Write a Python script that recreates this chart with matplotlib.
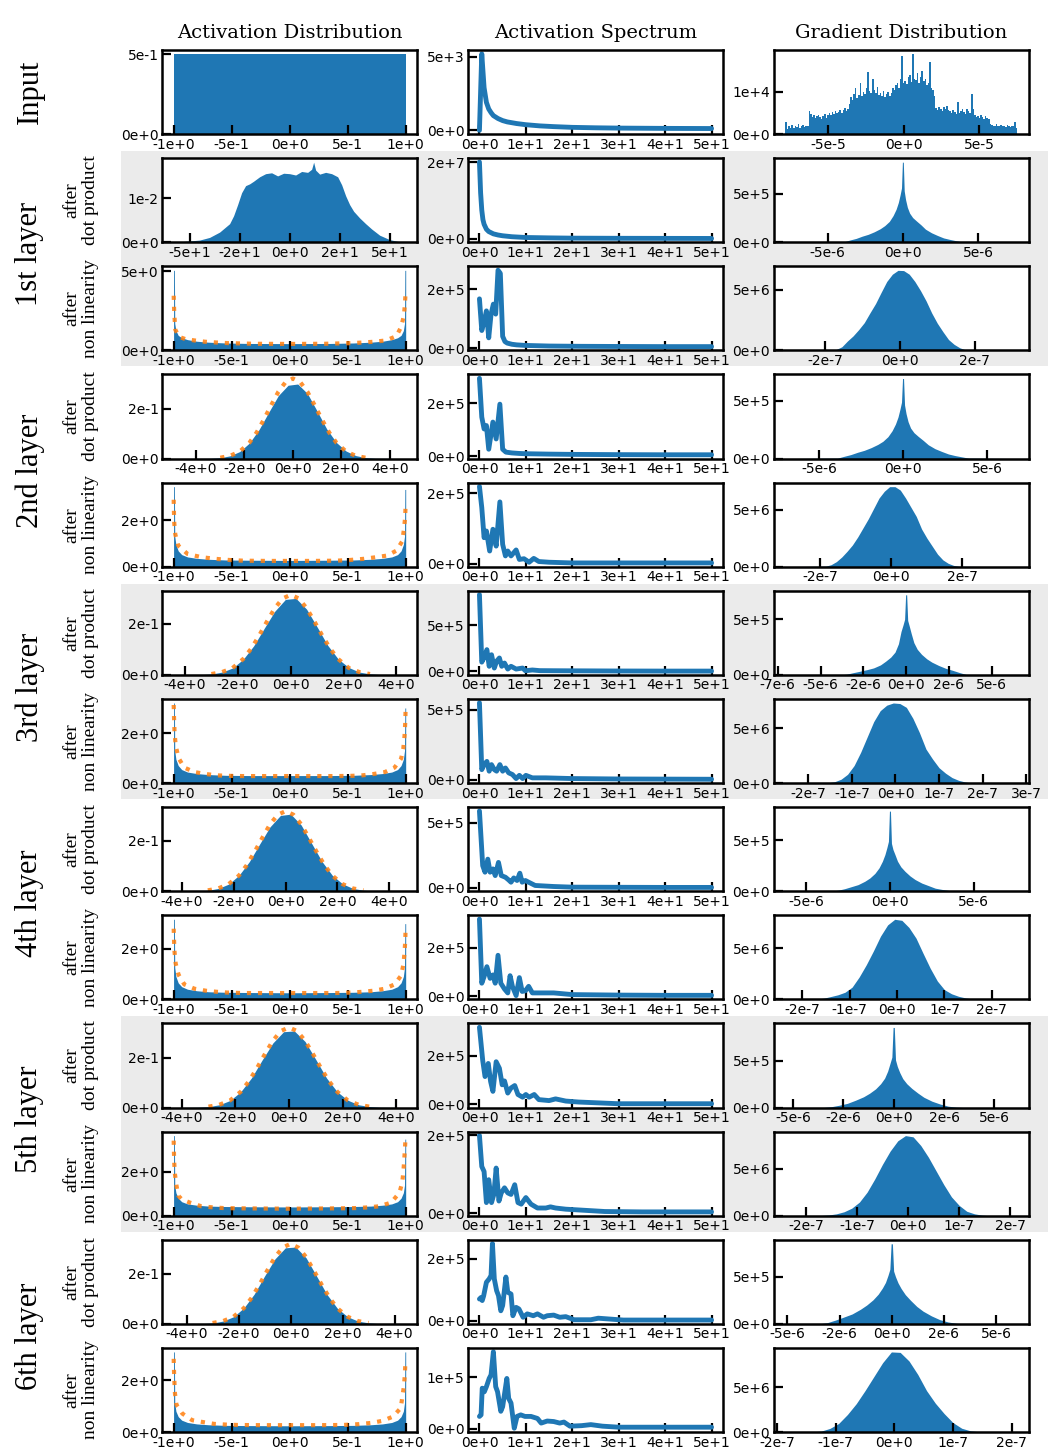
import numpy as np
import matplotlib
matplotlib.use("Agg")
import matplotlib.pyplot as plt
from matplotlib.ticker import MaxNLocator, Formatter
from matplotlib.patches import Rectangle

BLUE = "#1f77b4"
ORANGE = "#ff7f0e"

col_titles = ["Activation Distribution", "Activation Spectrum", "Gradient Distribution"]
row_groups = ["Input", "1st layer", "2nd layer", "3rd layer", "4th layer", "5th layer", "6th layer"]
sub_labels = ["after\ndot product", "after\nnon linearity"]

# ---------------- Column 1: activation distributions ----------------
act0_x = [-1.0, -0.5, 0.0, 0.5, 1.0]
act0_y = [0.5, 0.5, 0.5, 0.5, 0.5]

act1_x = [-58, -50, -45, -40, -35, -30, -28, -26, -24, -22, -20, -18, -15, -12, -9, -6, -3, 0, 3, 6,
          9, 11, 12, 13, 15, 18, 21, 24, 26, 28, 30, 32, 35, 38, 41, 45, 50, 54, 58]
act1_y = [0, 0.03, 0.05, 0.11, 0.23, 0.42, 0.6, 0.85, 1.12, 1.28, 1.32, 1.38, 1.48, 1.55, 1.57, 1.5,
          1.56, 1.55, 1.52, 1.6, 1.58, 1.65, 1.81, 1.63, 1.54, 1.58, 1.55, 1.48, 1.3, 1.05, 0.85, 0.7,
          0.55, 0.42, 0.3, 0.16, 0.06, 0.02, 0]  # x1e-2

nl_x = [-1.0, -1.0, -0.993, -0.99, -0.98, -0.96, -0.93, -0.88, -0.8, -0.7, -0.55, -0.35, 0.0,
        0.35, 0.55, 0.7, 0.8, 0.88, 0.93, 0.96, 0.98, 0.99, 0.993, 1.0, 1.0]
act2_y = [0, 5.05, 5.05, 1.7, 1.25, 0.95, 0.8, 0.68, 0.58, 0.52, 0.47, 0.44, 0.43, 0.44, 0.47, 0.52,
          0.58, 0.68, 0.8, 0.95, 1.25, 1.7, 5.05, 5.05, 0]
act4_y = [0, 3.43, 3.43, 1.3, 0.95, 0.68, 0.52, 0.42, 0.36, 0.32, 0.29, 0.28, 0.27, 0.28, 0.29, 0.32,
          0.36, 0.42, 0.52, 0.68, 0.95, 1.3, 3.31, 3.31, 0]
act6_y = [0, 3.2, 3.2, 1.3, 0.95, 0.7, 0.54, 0.44, 0.38, 0.34, 0.31, 0.3, 0.3, 0.3, 0.31, 0.34,
          0.38, 0.44, 0.54, 0.7, 0.95, 1.3, 3.0, 3.0, 0]
act8_y = [0, 3.15, 3.15, 1.25, 0.9, 0.65, 0.5, 0.4, 0.34, 0.3, 0.28, 0.27, 0.26, 0.27, 0.28, 0.3,
          0.34, 0.4, 0.5, 0.65, 0.9, 1.25, 2.98, 2.98, 0]
act10_y = [0, 3.66, 3.66, 1.4, 1.05, 0.8, 0.64, 0.54, 0.48, 0.44, 0.42, 0.41, 0.4, 0.41, 0.42, 0.44,
           0.48, 0.54, 0.64, 0.8, 1.05, 1.4, 3.5, 3.5, 0]
act12_y = [0, 3.85, 3.85, 1.4, 1.0, 0.74, 0.57, 0.46, 0.39, 0.35, 0.32, 0.31, 0.3, 0.31, 0.32, 0.35,
           0.39, 0.46, 0.57, 0.74, 1.0, 1.4, 3.85, 3.85, 0]

dp_core_x = [-3.4, -3.0, -2.6, -2.2, -1.8, -1.4, -1.0, -0.6, -0.2, 0.2, 0.6, 1.0, 1.4, 1.8, 2.2, 2.6, 3.0, 3.4]
act3_x = [-4.93] + dp_core_x + [4.66]
act5_x = [-4.43] + dp_core_x + [4.35]
act7_x = [-4.32] + dp_core_x + [4.63]
act9_x = [-4.30] + dp_core_x + [4.35]
act11_x = [-4.50] + dp_core_x + [4.43]
act3_y = [0, 0.001, 0.0035, 0.011, 0.028, 0.062, 0.116, 0.185, 0.252, 0.293, 0.298, 0.26, 0.19, 0.118,
          0.064, 0.03, 0.012, 0.004, 0.001, 0]
act5_y = [0, 0.001, 0.0035, 0.011, 0.027, 0.061, 0.114, 0.183, 0.25, 0.296, 0.3, 0.258, 0.188, 0.116,
          0.062, 0.029, 0.011, 0.004, 0.001, 0]
act7_y = [0, 0.001, 0.0035, 0.011, 0.028, 0.063, 0.117, 0.187, 0.255, 0.3, 0.305, 0.262, 0.19, 0.118,
          0.063, 0.029, 0.011, 0.004, 0.001, 0]
act9_y = [0, 0.001, 0.0035, 0.011, 0.028, 0.063, 0.118, 0.19, 0.258, 0.303, 0.306, 0.264, 0.192, 0.118,
          0.063, 0.029, 0.011, 0.004, 0.001, 0]
act11_y = [0, 0.001, 0.0035, 0.011, 0.028, 0.063, 0.118, 0.19, 0.258, 0.302, 0.305, 0.262, 0.19, 0.117,
           0.062, 0.028, 0.011, 0.004, 0.001, 0]

# orange dotted reference curves
ref_dp_x = [-3.0, -2.6, -2.2, -1.8, -1.5, -1.2, -0.9, -0.6, -0.3, 0.0, 0.3, 0.6, 0.9, 1.2, 1.5, 1.8, 2.2, 2.6, 3.0]
ref3_y = [0.0036, 0.011, 0.028, 0.063, 0.104, 0.156, 0.213, 0.267, 0.306, 0.32, 0.306, 0.267, 0.213,
          0.156, 0.104, 0.063, 0.028, 0.011, 0.0036]
ref5_y = [0.0035, 0.011, 0.027, 0.062, 0.102, 0.153, 0.209, 0.262, 0.3, 0.314, 0.3, 0.262, 0.209,
          0.153, 0.102, 0.062, 0.027, 0.011, 0.0035]
ref7_y = [0.0036, 0.011, 0.028, 0.062, 0.103, 0.155, 0.211, 0.265, 0.303, 0.317, 0.303, 0.265, 0.211,
          0.155, 0.103, 0.062, 0.028, 0.011, 0.0036]
ref9_y = [0.0036, 0.011, 0.028, 0.063, 0.104, 0.156, 0.213, 0.267, 0.306, 0.32, 0.306, 0.267, 0.213,
          0.156, 0.104, 0.063, 0.028, 0.011, 0.0036]
ref11_y = [0.0036, 0.011, 0.028, 0.062, 0.103, 0.155, 0.211, 0.265, 0.303, 0.318, 0.303, 0.265, 0.211,
           0.155, 0.103, 0.062, 0.028, 0.011, 0.0036]

ref2_x = [-0.999, -0.996, -0.993, -0.985, -0.95, -0.9, -0.82, -0.73, -0.63, -0.53, -0.3, 0.0, 0.3, 0.53,
          0.63, 0.73, 0.83, 0.92, 0.96, 0.985, 0.993, 0.998]
ref2_y = [3.45, 2.7, 2.2, 1.3, 0.85, 0.72, 0.63, 0.55, 0.5, 0.46, 0.42, 0.41, 0.42, 0.46, 0.5, 0.55,
          0.63, 0.9, 1.47, 2.2, 2.9, 3.5]
ref4_x = [-0.999, -0.997, -0.994, -0.985, -0.96, -0.88, -0.76, -0.64, -0.52, -0.4, -0.2, 0.0, 0.2, 0.4,
          0.52, 0.64, 0.76, 0.84, 0.92, 0.97, 0.985, 0.995, 0.999]
ref4_y = [2.87, 2.36, 1.86, 1.38, 0.91, 0.55, 0.41, 0.34, 0.29, 0.26, 0.25, 0.25, 0.25, 0.26, 0.29,
          0.34, 0.42, 0.48, 0.69, 1.09, 1.6, 2.09, 2.6]
ref68_x = [-0.999, -0.996, -0.992, -0.982, -0.957, -0.908, -0.82, -0.72, -0.63, -0.54, -0.4, -0.2, 0.0,
           0.2, 0.4, 0.54, 0.63, 0.72, 0.82, 0.904, 0.961, 0.98, 0.99, 0.996, 0.999]
ref6_y = [3.12, 2.6, 2.05, 1.5, 1.0, 0.62, 0.44, 0.36, 0.31, 0.29, 0.28, 0.28, 0.28, 0.28, 0.28, 0.29,
          0.31, 0.36, 0.44, 0.62, 0.98, 1.4, 1.88, 2.4, 2.9]
ref8_y = [2.78, 2.31, 1.88, 1.41, 0.97, 0.59, 0.42, 0.34, 0.3, 0.27, 0.25, 0.25, 0.25, 0.25, 0.25, 0.27,
          0.3, 0.34, 0.42, 0.59, 0.94, 1.37, 1.84, 2.28, 2.74]
ref10_x = [-0.999, -0.997, -0.994, -0.988, -0.975, -0.96, -0.93, -0.86, -0.76, -0.66, -0.57, -0.47, -0.25,
           0.0, 0.25, 0.47, 0.57, 0.67, 0.77, 0.875, 0.946, 0.97, 0.98, 0.987, 0.993, 0.998]
ref10_y = [3.43, 2.92, 2.38, 1.89, 1.38, 0.92, 0.75, 0.6, 0.43, 0.38, 0.35, 0.34, 0.33, 0.32, 0.33, 0.34,
           0.35, 0.38, 0.43, 0.6, 1.05, 1.51, 2.0, 2.51, 3.02, 3.48]
ref12_x = [-0.999, -0.997, -0.993, -0.988, -0.975, -0.925, -0.84, -0.748, -0.648, -0.553, -0.46, -0.25,
           0.0, 0.25, 0.46, 0.6, 0.704, 0.8, 0.89, 0.957, 0.97, 0.985, 0.992, 0.997]
ref12_y = [3.52, 3.03, 2.43, 1.85, 1.31, 0.89, 0.57, 0.48, 0.39, 0.36, 0.34, 0.33, 0.33, 0.33, 0.34,
           0.38, 0.44, 0.54, 0.74, 1.15, 1.64, 2.21, 2.7, 3.28]

# ---------------- Column 2: activation spectra ----------------
spec0_x = [0, 0.5, 1.0, 1.5, 2, 2.5, 3, 4, 5, 6, 8, 10, 13, 16, 20, 25, 30, 40, 50]
spec0_y = [0, 5.2, 2.9, 1.9, 1.45, 1.2, 1.0, 0.8, 0.66, 0.57, 0.46, 0.38, 0.3, 0.25, 0.2, 0.17, 0.15,
           0.13, 0.12]  # x1e3
spec1_x = [0, 0.25, 0.5, 0.75, 1, 1.5, 2, 3, 4, 5, 7, 10, 15, 20, 30, 40, 50]
spec1_y = [2.0, 1.2, 0.75, 0.5, 0.38, 0.25, 0.19, 0.13, 0.1, 0.08, 0.055, 0.035, 0.025, 0.018, 0.014,
           0.012, 0.01]  # x1e7
spec2_x = [0, 0.5, 1.0, 1.5, 2.0, 2.5, 3.0, 3.5, 4.0, 4.5, 5.0, 5.5, 6, 7, 8, 10, 15, 22, 30, 40, 50]
spec2_y = [1.68, 0.6, 0.9, 1.27, 0.35, 1.16, 1.5, 1.16, 2.66, 2.55, 0.4, 0.22, 0.17, 0.13, 0.11, 0.09,
           0.07, 0.06, 0.055, 0.05, 0.05]  # x1e5
spec3_x = [0, 0.5, 1.0, 1.5, 2.0, 2.9, 3.6, 4.4, 5.0, 5.7, 7, 8.6, 10, 15, 20, 30, 40, 50]
spec3_y = [2.95, 1.48, 1.03, 1.16, 0.26, 1.29, 0.65, 1.97, 0.26, 0.15, 0.12, 0.1, 0.09, 0.075, 0.065,
           0.055, 0.05, 0.05]
spec4_x = [0, 0.5, 1, 1.5, 2.2, 2.9, 3.6, 4.4, 5.0, 5.6, 6.1, 6.8, 7.9, 8.6, 9.6, 10.7, 11.7, 12.8, 15,
           20, 30, 40, 50]
spec4_y = [2.2, 1.6, 0.74, 0.93, 0.36, 0.98, 0.5, 1.76, 0.55, 0.22, 0.36, 0.22, 0.39, 0.12, 0.14, 0.04,
           0.15, 0.06, 0.04, 0.02, 0.02, 0.02, 0.02]
spec5_x = [0, 0.5, 1.0, 1.6, 2.1, 2.6, 3.2, 3.7, 4.3, 4.8, 5.4, 6.1, 6.8, 7.9, 9.3, 9.9, 11.4, 13, 16,
           20, 30, 40, 50]
spec5_y = [8.3, 1.0, 1.5, 2.35, 0.55, 1.8, 0.36, 1.1, 1.45, 0.55, 0.9, 0.25, 0.55, 0.25, 0.36, 0.07,
           0.15, 0.08, 0.07, 0.06, 0.04, 0.03, 0.03]
spec6_x = [0, 0.5, 1, 1.6, 2.1, 2.6, 3.2, 3.7, 4.4, 5.0, 5.6, 6.3, 7.1, 7.9, 8.6, 9.3, 10, 11.4, 14.3,
           20, 30, 40, 50]
spec6_y = [5.5, 0.71, 1.07, 1.3, 0.6, 1.07, 0.71, 0.6, 1.07, 0.6, 0.83, 0.48, 0.36, 0.07, 0.3, 0.07,
           0.3, 0.12, 0.12, 0.07, 0.04, 0.03, 0.02]
spec7_x = [0, 0.7, 1.2, 1.8, 2.3, 2.9, 3.4, 4.1, 4.7, 5.6, 6.3, 6.8, 7.4, 8.1, 8.7, 9.2, 9.9, 10.6, 12,
           16, 20, 30, 40, 50]
spec7_y = [5.9, 1.7, 1.2, 2.2, 1.2, 1.45, 0.94, 1.95, 0.94, 0.81, 0.6, 0.43, 0.76, 0.56, 1.12, 0.43,
           0.56, 0.43, 0.18, 0.1, 0.05, 0.04, 0.03, 0.03]
spec8_x = [0, 0.5, 1, 1.6, 2.3, 2.9, 3.4, 4.0, 4.6, 5.4, 6.1, 6.6, 7.1, 7.9, 8.6, 9.2, 9.9, 10.6, 11.4,
           14.3, 16, 20, 30, 40, 50]
spec8_y = [3.18, 0.54, 0.81, 1.22, 0.74, 0.88, 0.54, 1.69, 0.54, 0.3, 0.14, 0.85, 0.41, 0.03, 0.77,
           0.2, 0.23, 0.41, 0.14, 0.14, 0.14, 0.07, 0.05, 0.04, 0.04]
spec9_x = [0, 0.7, 1.2, 1.9, 2.4, 2.9, 3.6, 4.3, 4.9, 5.4, 6.1, 6.8, 7.6, 8.3, 9.3, 10, 10.7, 11.8, 12.8,
           15, 16.4, 18.6, 21.4, 30, 40, 50]
spec9_y = [3.18, 1.82, 1.15, 1.69, 0.95, 0.54, 1.76, 1.49, 0.81, 0.97, 0.47, 0.68, 0.78, 0.41, 0.3,
           0.41, 0.3, 0.41, 0.2, 0.16, 0.23, 0.14, 0.1, 0.03, 0.03, 0.03]
spec10_x = [0, 0.5, 1, 1.5, 2, 2.6, 3.1, 3.6, 4.2, 4.7, 5.4, 6.1, 6.8, 7.6, 8.3, 9.0, 10, 11.1, 12.5,
            14.3, 15.3, 16.4, 18.6, 21.4, 27, 35, 50]
spec10_y = [2.0, 1.2, 1.07, 0.27, 0.86, 0.27, 0.48, 1.16, 0.31, 0.52, 0.65, 0.52, 0.48, 0.73, 0.27,
            0.23, 0.4, 0.23, 0.13, 0.13, 0.16, 0.13, 0.1, 0.08, 0.04, 0.03, 0.03]
spec11_x = [0, 0.35, 0.6, 0.9, 1.5, 2.1, 2.5, 2.8, 3.2, 3.7, 4.1, 4.6, 5.0, 5.7, 6.1, 6.8, 7.2, 7.9, 8.5,
            9.4, 10.3, 11.6, 12.5, 13.8, 14.6, 16, 17.3, 18.6, 20.4, 24, 25.6, 31, 50]
spec11_y = [0.7, 0.75, 0.65, 0.8, 1.24, 1.35, 1.46, 2.49, 1.35, 0.97, 0.81, 0.32, 0.49, 1.41, 0.92,
            0.86, 0.16, 0.43, 0.38, 0.11, 0.22, 0.16, 0.22, 0.11, 0.16, 0.18, 0.11, 0.13, 0.03, 0.03,
            0.08, 0.02, 0.02]
spec12_x = [0, 0.35, 0.6, 1.05, 1.5, 2.1, 2.5, 3.0, 3.5, 3.9, 4.6, 5.0, 5.9, 6.3, 6.8, 7.5, 8.1, 8.9,
            9.8, 11.1, 12.5, 13.3, 14.6, 16, 17.3, 18.2, 19.5, 22, 24, 26.5, 30, 50]
spec12_y = [0.24, 0.27, 0.79, 0.72, 0.82, 0.98, 1.05, 1.5, 0.82, 0.72, 0.34, 0.43, 0.98, 0.59, 0.5,
            0.01, 0.24, 0.27, 0.24, 0.24, 0.2, 0.11, 0.15, 0.14, 0.11, 0.13, 0.05, 0.06, 0.08, 0.05,
            0.03, 0.03]

# ---------------- Column 3: gradient distributions ----------------
grad0_range = [-7.8, 7.5]  # x1e-5
grad0_counts = [0.28, 0.12, 0.18, 0.15, 0.22, 0.14, 0.2, 0.17, 0.25, 0.15, 0.19, 0.22, 0.16, 0.2, 0.18,
                0.55, 0.48,
                0.4, 0.44, 0.38, 0.42, 0.46, 0.4, 0.36, 0.43, 0.47, 0.39, 0.44,
                0.5, 0.45, 0.52, 0.47, 0.55, 0.49, 0.53, 0.58, 0.5, 0.56, 0.62, 0.55, 0.6,
                0.72, 0.88, 0.8, 0.95, 1.1, 0.85, 0.92, 1.2, 0.9,
                1.0, 0.95, 1.08, 1.46, 1.02, 0.98, 1.3, 1.05, 0.97, 1.12,
                0.92, 0.98, 0.9, 1.02, 0.88, 0.95, 1.0, 0.9, 0.96, 1.1, 1.05,
                1.15, 1.2, 1.08, 1.3, 1.85, 1.2, 1.25,
                1.18, 1.35, 1.4, 1.22, 1.89, 1.3, 1.28, 1.45, 1.2, 1.35, 1.5,
                1.25, 1.3, 1.15, 1.2, 1.69, 1.1, 1.05, 0.9,
                0.62, 0.58, 0.65, 0.6, 0.55, 0.63, 0.59, 0.66, 0.57,
                0.55, 0.5, 0.58, 0.52, 0.48, 0.75, 0.5, 0.55, 0.6, 0.52, 0.48, 0.6, 0.55, 0.5,
                0.94, 0.6,
                0.45, 0.4, 0.42, 0.38, 0.44, 0.4, 0.36, 0.42, 0.39, 0.35,
                0.25, 0.22, 0.2, 0.18, 0.24, 0.2, 0.19, 0.22, 0.18, 0.2, 0.17, 0.21, 0.19, 0.16, 0.2,
                0.18, 0.28, 0.15]  # x1e4

# sharply peaked gradients after the dot product (x in 1e-6, y in 1e5)
lap_x = [-3.9, -3.5, -3.1, -2.7, -2.3, -1.9, -1.5, -1.2, -0.9, -0.65, -0.45, -0.3, -0.18, -0.09, -0.03,
         0.03, 0.09, 0.18, 0.3, 0.45, 0.65, 0.9, 1.2, 1.5, 1.9, 2.3, 2.7, 3.1, 3.5, 3.9]
grad1_lim = [-7.8, 7.6]
grad1_y = [0.05, 0.24, 0.4, 0.63, 0.82, 1.08, 1.4, 1.72, 2.15, 2.75, 3.4, 4.1, 4.9, 5.6, 8.26,
           8.26, 5.3, 4.4, 3.6, 3.0, 2.55, 2.2, 1.8, 1.35, 0.98, 0.7, 0.45, 0.3, 0.17, 0.05]
grad3_lim = [-7.0, 6.8]
grad3_y = [0.04, 0.2, 0.35, 0.55, 0.72, 0.95, 1.23, 1.5, 1.9, 2.42, 3.0, 3.6, 4.3, 4.9, 6.95,
           6.95, 4.65, 3.9, 3.2, 2.65, 2.25, 1.93, 1.58, 1.2, 0.86, 0.62, 0.4, 0.26, 0.15, 0.04]
grad5_lim = [-7.06, 6.5]
grad5_y = [0, 0.06, 0.2, 0.33, 0.47, 0.63, 0.9, 1.23, 1.6, 2.05, 2.8, 3.9, 4.5, 5.0, 7.2,
           7.2, 4.9, 4.4, 3.7, 2.9, 2.3, 1.85, 1.45, 1.15, 0.85, 0.6, 0.42, 0.22, 0.04, 0]
grad7_lim = [-6.24, 7.6]
grad7_y = [0, 0.02, 0.1, 0.25, 0.45, 0.65, 0.98, 1.3, 1.75, 2.3, 2.95, 3.6, 4.3, 4.9, 7.87,
           7.87, 4.7, 4.1, 3.6, 2.95, 2.4, 1.95, 1.5, 1.15, 0.8, 0.55, 0.3, 0.18, 0.08, 0.02]
grad9_lim = [-5.38, 6.14]
grad9_y = [0, 0, 0.09, 0.25, 0.45, 0.78, 1.15, 1.53, 2.0, 2.55, 3.15, 3.9, 4.75, 5.4, 8.58,
           8.58, 5.1, 4.4, 3.75, 3.1, 2.55, 2.05, 1.55, 1.1, 0.68, 0.38, 0.15, 0.04, 0, 0]
grad11_lim = [-5.1, 6.02]
grad11_y = [0, 0, 0.12, 0.4, 0.72, 1.05, 1.55, 2.0, 2.55, 3.15, 3.8, 4.4, 5.15, 5.8, 8.5,
            8.5, 5.6, 5.0, 4.35, 3.75, 3.1, 2.5, 1.85, 1.35, 0.85, 0.45, 0.2, 0.06, 0, 0]

# bell-shaped gradients after the non linearity (x in 1e-7, y in 1e6)
bell_x = [-1.85, -1.7, -1.55, -1.4, -1.25, -1.1, -0.95, -0.8, -0.65, -0.5, -0.35, -0.2, -0.05, 0.1,
          0.25, 0.4, 0.55, 0.7, 0.85, 1.0, 1.15, 1.3, 1.45, 1.6, 1.75, 1.9]
grad2_lim = [-3.06, 3.14]
grad2_y = [0, 0.08, 0.3, 0.78, 1.2, 1.72, 2.3, 3.1, 3.87, 4.8, 5.7, 6.3, 6.62, 6.6, 6.3, 5.7, 4.95,
           4.1, 3.1, 2.25, 1.55, 0.9, 0.5, 0.22, 0.05, 0]
grad4_lim = [-2.99, 3.55]
grad4_y = [0.05, 0.18, 0.45, 0.85, 1.35, 1.9, 2.6, 3.4, 4.2, 5.1, 6.0, 6.6, 7.0, 7.0, 6.7, 6.0, 5.2,
           4.4, 3.3, 2.5, 1.8, 1.1, 0.6, 0.3, 0.12, 0.04]
grad6_lim = [-2.53, 2.8]
grad6_y = [0, 0, 0.03, 0.12, 0.35, 0.8, 1.6, 2.8, 4.2, 5.6, 6.6, 7.1, 7.3, 7.25, 6.9, 5.9, 4.6, 3.1,
           2.2, 1.4, 0.9, 0.5, 0.25, 0.1, 0, 0]
grad8_lim = [-2.36, 2.54]
grad8_y = [0, 0.02, 0.12, 0.28, 0.45, 0.7, 1.2, 2.2, 3.4, 4.75, 6.2, 7.3, 7.85, 7.75, 7.05, 6.0, 4.5,
           3.05, 1.8, 0.95, 0.55, 0.3, 0.14, 0.05, 0, 0]
grad10_lim = [-2.4, 2.14]
grad10_y = [0, 0.02, 0.08, 0.2, 0.42, 0.8, 1.45, 2.5, 3.9, 5.45, 6.85, 7.95, 8.5, 8.37, 7.45, 6.2,
            4.75, 3.3, 2.0, 1.1, 0.47, 0.2, 0.06, 0, 0, 0]
grad12_lim = [-1.86, 2.1]
grad12_y = [0, 0, 0, 0.02, 0.1, 0.4, 0.95, 1.95, 3.15, 4.6, 6.15, 7.7, 8.9, 8.85, 7.9, 6.4, 4.6, 3.2,
            2.05, 1.05, 0.42, 0.13, 0.03, 0, 0, 0]

# ---------------- panel tables built from the arrays ----------------
act_panels = [
    (act0_x, act0_y, 1, 1, None, None),
    (act1_x, act1_y, 1, 1e-2, None, None),
    (nl_x, act2_y, 1, 1, ref2_x, ref2_y),
    (act3_x, act3_y, 1, 1, ref_dp_x, ref3_y),
    (nl_x, act4_y, 1, 1, ref4_x, ref4_y),
    (act5_x, act5_y, 1, 1, ref_dp_x, ref5_y),
    (nl_x, act6_y, 1, 1, ref68_x, ref6_y),
    (act7_x, act7_y, 1, 1, ref_dp_x, ref7_y),
    (nl_x, act8_y, 1, 1, ref68_x, ref8_y),
    (act9_x, act9_y, 1, 1, ref_dp_x, ref9_y),
    (nl_x, act10_y, 1, 1, ref10_x, ref10_y),
    (act11_x, act11_y, 1, 1, ref_dp_x, ref11_y),
    (nl_x, act12_y, 1, 1, ref12_x, ref12_y),
]
spec_panels = [
    (spec0_x, spec0_y, 1e3), (spec1_x, spec1_y, 1e7), (spec2_x, spec2_y, 1e5),
    (spec3_x, spec3_y, 1e5), (spec4_x, spec4_y, 1e5), (spec5_x, spec5_y, 1e5),
    (spec6_x, spec6_y, 1e5), (spec7_x, spec7_y, 1e5), (spec8_x, spec8_y, 1e5),
    (spec9_x, spec9_y, 1e5), (spec10_x, spec10_y, 1e5), (spec11_x, spec11_y, 1e5),
    (spec12_x, spec12_y, 1e5),
]
grad_panels = [
    None,
    (lap_x, grad1_lim, grad1_y, 1e-6, 1e5), (bell_x, grad2_lim, grad2_y, 1e-7, 1e6),
    (lap_x, grad3_lim, grad3_y, 1e-6, 1e5), (bell_x, grad4_lim, grad4_y, 1e-7, 1e6),
    (lap_x, grad5_lim, grad5_y, 1e-6, 1e5), (bell_x, grad6_lim, grad6_y, 1e-7, 1e6),
    (lap_x, grad7_lim, grad7_y, 1e-6, 1e5), (bell_x, grad8_lim, grad8_y, 1e-7, 1e6),
    (lap_x, grad9_lim, grad9_y, 1e-6, 1e5), (bell_x, grad10_lim, grad10_y, 1e-7, 1e6),
    (lap_x, grad11_lim, grad11_y, 1e-6, 1e5), (bell_x, grad12_lim, grad12_y, 1e-7, 1e6),
]


class SciFmt(Formatter):
    def __call__(self, v, pos=None):
        ref = max((abs(l) for l in self.locs), default=1.0) or 1.0
        if abs(v) < ref * 1e-9:
            v = 0.0
        m, e = f"{v:.0e}".split("e")
        return f"{m}e{e[0]}{int(e[1:])}"


fig, axes = plt.subplots(13, 3, figsize=(10.58, 14.54), dpi=100)
fig.subplots_adjust(left=0.1531, right=0.9726, top=0.9656, bottom=0.0151,
                    wspace=0.198, hspace=0.286)

for r in range(13):
    # column 1: activation histogram + theoretical curve
    ax = axes[r, 0]
    x, y, xs, ys, rx, ry = act_panels[r]
    ax.fill_between(np.asarray(x) * xs, np.asarray(y) * ys, 0, color=BLUE, linewidth=0)
    if rx is not None:
        ax.plot(rx, ry, color=ORANGE, lw=3, ls=":", alpha=0.85)
    # column 2: spectrum
    ax = axes[r, 1]
    x, y, ys = spec_panels[r]
    ax.plot(x, np.asarray(y) * ys, color=BLUE, lw=3.5, solid_capstyle="round")
    # column 3: gradient histogram
    ax = axes[r, 2]
    if grad_panels[r] is None:
        edges = np.linspace(grad0_range[0], grad0_range[1], len(grad0_counts) + 1) * 1e-5
        ax.stairs(np.asarray(grad0_counts) * 1e4, edges, fill=True, color=BLUE, linewidth=0)
    else:
        gx, lim, gy, xs, ys = grad_panels[r]
        xx = np.array([lim[0]] + list(gx) + [lim[1]]) * xs
        yy = np.array([0] + list(gy) + [0]) * ys
        ax.fill_between(xx, yy, 0, color=BLUE, linewidth=0)

for r in range(13):
    for c in range(3):
        ax = axes[r, c]
        if c != 1:
            ax.set_ylim(bottom=0)
        ax.xaxis.set_major_locator(MaxNLocator(nbins=6, steps=[1, 2, 2.5, 5, 10]))
        ax.yaxis.set_major_locator(MaxNLocator(nbins=2, steps=[1, 2, 2.5, 5, 10]))
        ax.xaxis.set_major_formatter(SciFmt())
        ax.yaxis.set_major_formatter(SciFmt())
        ax.tick_params(direction="in", length=6.5, width=1.6, labelsize=10, pad=2.5,
                       top=False, right=False)
        for sp in ax.spines.values():
            sp.set_linewidth(1.8)

for c in range(3):
    axes[0, c].set_title(col_titles[c], fontsize=14, family="DejaVu Serif", pad=9)

fig.canvas.draw()
W, H = fig.get_size_inches() * fig.dpi

# gray bands behind 1st, 3rd, 5th layers
for L in (1, 3, 5):
    p1 = axes[2 * L - 1, 0].get_position()
    p2 = axes[2 * L, 0].get_position()
    y0 = p2.y0 - 16 / H
    y1 = p1.y1 + 7 / H
    fig.add_artist(Rectangle((121 / W, y0), (1048 - 121) / W, y1 - y0, transform=fig.transFigure,
                             facecolor="#ebebeb", edgecolor="none", zorder=-1))

# row labels
p = axes[0, 0].get_position()
fig.text(30 / W, (p.y0 + p.y1) / 2, row_groups[0], rotation=90, ha="center", va="center",
         fontsize=22, family="Liberation Serif")
for L in range(1, 7):
    pa = axes[2 * L - 1, 0].get_position()
    pb = axes[2 * L, 0].get_position()
    fig.text(30 / W, (pa.y1 + pb.y0) / 2, row_groups[L], rotation=90, ha="center", va="center",
             fontsize=22, family="Liberation Serif")
    for k, pp in enumerate((pa, pb)):
        fig.text(81 / W, (pp.y0 + pp.y1) / 2, sub_labels[k], rotation=90, ha="center", va="center",
                 multialignment="center", fontsize=14, family="Liberation Serif", linespacing=1.15)

fig.savefig("out.png", dpi=100)
